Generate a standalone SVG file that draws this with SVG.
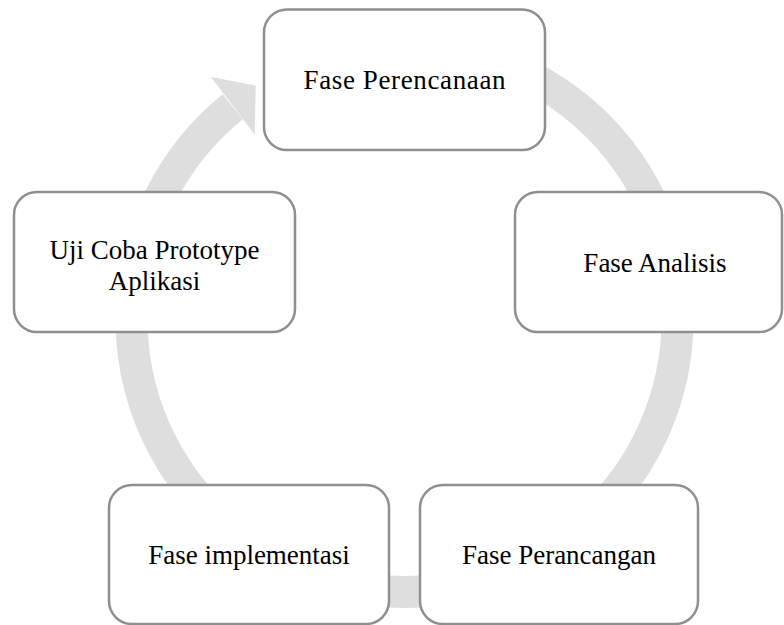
<svg xmlns="http://www.w3.org/2000/svg" width="784" height="625" viewBox="0 0 784 625">
  <style>
    .box { fill: #ffffff; stroke: #8f8f8f; stroke-width: 2.5; }
    .lbl { font-family: "Liberation Serif", "DejaVu Serif", serif; font-size: 27px; fill: #000000; text-anchor: middle; }
    .ring { fill: none; stroke: #dedede; stroke-width: 32; stroke-linecap: butt; }
    .head { fill: #dedede; }
  </style>
  <rect width="784" height="625" fill="#ffffff"/>
  <g id="connectors">
    <path class="ring" d="M 451.9 50.1 A 273 273 0 1 1 232.7 106.8"/>
    <polygon class="head" points="211,77 255.7,85.4 254.7,134.5"/>
  </g>
  <g id="node-perencanaan">
    <rect class="box" x="264" y="9.5" width="281" height="140.5" rx="23" ry="23"/>
    <text class="lbl" x="404.5" y="89" textLength="202" lengthAdjust="spacing">Fase Perencanaan</text>
  </g>
  <g id="node-analisis">
    <rect class="box" x="515" y="192" width="267" height="140" rx="23" ry="23"/>
    <text class="lbl" x="655" y="272">Fase Analisis</text>
  </g>
  <g id="node-perancangan">
    <rect class="box" x="420" y="485" width="278" height="139" rx="23" ry="23"/>
    <text class="lbl" x="559" y="564">Fase Perancangan</text>
  </g>
  <g id="node-implementasi">
    <rect class="box" x="109" y="485" width="280" height="139" rx="23" ry="23"/>
    <text class="lbl" x="249" y="564">Fase implementasi</text>
  </g>
  <g id="node-ujicoba">
    <rect class="box" x="14" y="192" width="281" height="140" rx="23" ry="23"/>
    <text class="lbl" x="154.5" y="259">Uji Coba Prototype</text>
    <text class="lbl" x="154.5" y="290">Aplikasi</text>
  </g>
</svg>
